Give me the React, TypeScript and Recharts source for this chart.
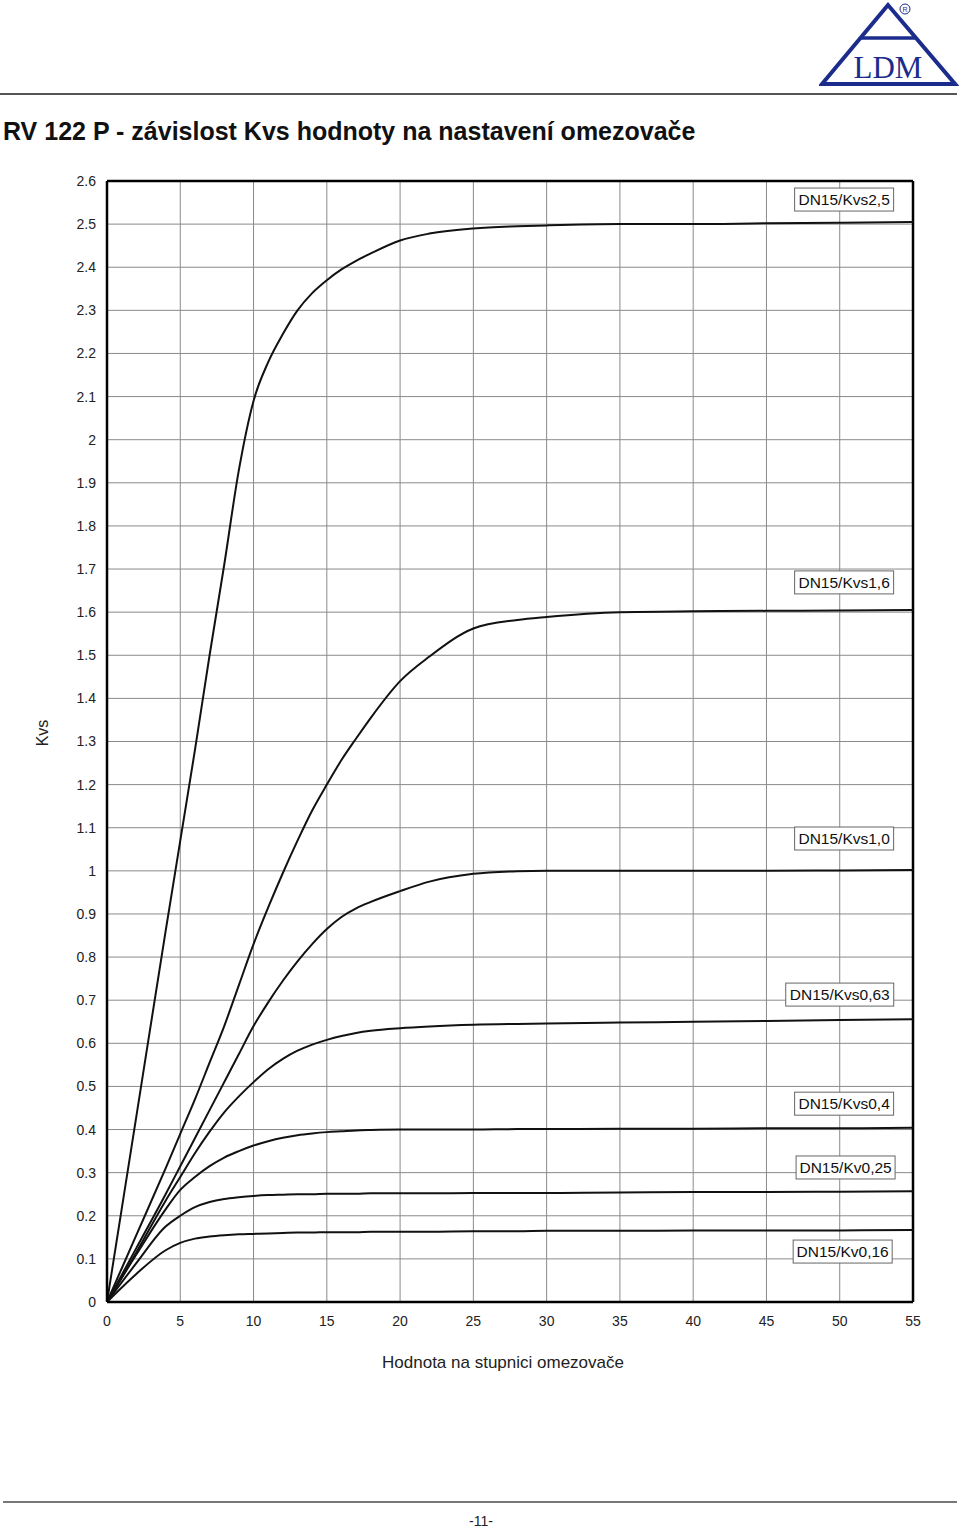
import React from "react";
import {
  CartesianGrid,
  LineChart,
  Line,
  ReferenceDot,
  ReferenceLine,
  XAxis,
  YAxis,
} from "recharts";

// positions on the limiter scale
const xs = [0, 2, 4, 5, 6, 7, 8, 9, 10, 11, 12, 13, 14, 15, 16, 17, 18, 20, 22, 25, 28, 30, 35, 40, 45, 50, 55];

// Kvs
const kvs250 = [0, 0.43, 0.86, 1.07, 1.28, 1.5, 1.71, 1.93, 2.09, 2.18, 2.245, 2.3, 2.34, 2.37, 2.395, 2.415, 2.432, 2.462, 2.478, 2.49, 2.495, 2.497, 2.5, 2.5, 2.502, 2.503, 2.505];
const kvs160 = [0, 0.155, 0.31, 0.39, 0.47, 0.555, 0.64, 0.735, 0.83, 0.915, 0.995, 1.07, 1.14, 1.2, 1.257, 1.307, 1.355, 1.44, 1.497, 1.562, 1.582, 1.589, 1.6, 1.602, 1.603, 1.604, 1.605];
const kvs100 = [0, 0.125, 0.25, 0.315, 0.38, 0.445, 0.51, 0.575, 0.64, 0.695, 0.745, 0.79, 0.83, 0.865, 0.893, 0.913, 0.928, 0.953, 0.975, 0.993, 0.999, 1.0, 1.0, 1.0, 1.0, 1.001, 1.002];
const kvs063 = [0, 0.115, 0.235, 0.29, 0.345, 0.395, 0.44, 0.477, 0.51, 0.54, 0.564, 0.583, 0.597, 0.608, 0.617, 0.624, 0.629, 0.635, 0.639, 0.643, 0.645, 0.646, 0.648, 0.65, 0.652, 0.654, 0.656];
const kvs040 = [0, 0.11, 0.215, 0.26, 0.29, 0.315, 0.335, 0.35, 0.363, 0.373, 0.381, 0.387, 0.391, 0.394, 0.396, 0.398, 0.399, 0.4, 0.4, 0.4, 0.401, 0.401, 0.402, 0.402, 0.403, 0.403, 0.404];
const kv025 = [0, 0.09, 0.175, 0.2, 0.22, 0.232, 0.239, 0.243, 0.246, 0.248, 0.249, 0.25, 0.25, 0.251, 0.251, 0.251, 0.252, 0.252, 0.252, 0.253, 0.253, 0.253, 0.254, 0.255, 0.255, 0.256, 0.257];
const kv016 = [0, 0.065, 0.12, 0.137, 0.147, 0.152, 0.155, 0.157, 0.158, 0.159, 0.16, 0.161, 0.161, 0.162, 0.162, 0.162, 0.163, 0.163, 0.163, 0.164, 0.164, 0.165, 0.165, 0.166, 0.166, 0.166, 0.167];

const seriesKeys = ["k250", "k160", "k100", "k063", "k040", "k025", "k016"];
const seriesValues = [kvs250, kvs160, kvs100, kvs063, kvs040, kv025, kv016];

const labelNames = ["DN15/Kvs2,5", "DN15/Kvs1,6", "DN15/Kvs1,0", "DN15/Kvs0,63", "DN15/Kvs0,4", "DN15/Kv0,25", "DN15/Kv0,16"];
const labelX = [50.3, 50.3, 50.3, 50.0, 50.3, 50.4, 50.2];
const labelY = [2.557, 1.669, 1.075, 0.713, 0.46, 0.312, 0.117];

const xTicks = [0, 5, 10, 15, 20, 25, 30, 35, 40, 45, 50, 55];
const yTicks = [0, 0.1, 0.2, 0.3, 0.4, 0.5, 0.6, 0.7, 0.8, 0.9, 1, 1.1, 1.2, 1.3, 1.4, 1.5, 1.6, 1.7, 1.8, 1.9, 2, 2.1, 2.2, 2.3, 2.4, 2.5, 2.6];

const rows = xs.map((x, i) => {
  const r: Record<string, number> = { x };
  seriesKeys.forEach((k, j) => (r[k] = seriesValues[j][i]));
  return r;
});

const FONT = "'Liberation Sans', Arial, sans-serif";

function LabelBox(props: any) {
  const { cx, cy, text } = props;
  const w = text.length * 9;
  return (
    <g>
      <rect x={cx - w / 2} y={cy - 11.5} width={w} height={23} fill="#fff" stroke="#666" strokeWidth={1} />
      <text x={cx} y={cy + 5.5} textAnchor="middle" fontSize={15.5} fontFamily={FONT} fill="#111">
        {text}
      </text>
    </g>
  );
}

function Logo() {
  return (
    <svg width={140} height={90} style={{ position: "absolute", left: 819, top: 0 }}>
      <polygon points="69,5 3,84 136,84" fill="none" stroke="#1b2c8c" strokeWidth={4} />
      <line x1={41} y1={38} x2={97} y2={38} stroke="#1b2c8c" strokeWidth={3.5} />
      <text x={69} y={78} textAnchor="middle" fontSize={31} fontFamily="'Liberation Serif', serif" fill="#1b2c8c">
        LDM
      </text>
      <circle cx={86} cy={9} r={5} fill="none" stroke="#1b2c8c" strokeWidth={1} />
      <text x={86} y={12} textAnchor="middle" fontSize={7} fontFamily={FONT} fill="#1b2c8c">R</text>
    </svg>
  );
}

export default function App() {
  return (
    <div style={{ position: "absolute", left: 0, top: 0, width: 960, height: 1529, background: "#fff", fontFamily: FONT }}>
      <Logo />
      <div style={{ position: "absolute", left: 0, top: 93, width: 957, height: 2, background: "#555" }} />
      <div style={{ position: "absolute", left: 3, top: 117, fontSize: 25, fontWeight: "bold", color: "#111", whiteSpace: "nowrap" }}>
        RV 122 P - závislost Kvs hodnoty na nastavení omezovače
      </div>

      <div style={{ position: "absolute", left: 0, top: 170 }}>
        <LineChart width={930} height={1180} data={rows} margin={{ top: 11, right: 17, bottom: 18, left: 0 }}>
          <CartesianGrid stroke="#8a8a8a" strokeWidth={1} horizontalValues={yTicks} verticalValues={xTicks} />
          <XAxis
            dataKey="x"
            type="number"
            domain={[0, 55]}
            ticks={xTicks}
            interval={0}
            height={30}
            tickLine={false}
            tickSize={6}
            tickMargin={8}
            axisLine={{ stroke: "#000", strokeWidth: 2.5 }}
            tick={{ fontSize: 14, fill: "#222", fontFamily: FONT }}
          />
          <YAxis
            type="number"
            domain={[0, 2.6]}
            ticks={yTicks}
            interval={0}
            width={107}
            tickLine={false}
            tickSize={6}
            tickMargin={5}
            axisLine={{ stroke: "#000", strokeWidth: 2.5 }}
            tickFormatter={(v) => String(v)}
            tick={{ fontSize: 14, fill: "#222", fontFamily: FONT }}
          />
          <ReferenceLine x={55} stroke="#000" strokeWidth={2.5} />
          <ReferenceLine y={2.6} stroke="#000" strokeWidth={2.5} />
          {seriesKeys.map((k) => (
            <Line key={k} dataKey={k} type="monotone" stroke="#111" strokeWidth={2} dot={false} isAnimationActive={false} />
          ))}
          {labelNames.map((t, i) => (
            <ReferenceDot key={t} x={labelX[i]} y={labelY[i]} r={0} shape={(p: any) => <LabelBox {...p} text={t} />} />
          ))}
        </LineChart>
      </div>

      <div style={{ position: "absolute", left: 26, top: 733, width: 34, textAlign: "center", transform: "rotate(-90deg)", transformOrigin: "center", fontSize: 16, color: "#222", lineHeight: "18px", marginTop: -9 }}>
        Kvs
      </div>
      <div style={{ position: "absolute", left: 300, top: 1353, width: 406, textAlign: "center", fontSize: 17, color: "#222" }}>
        Hodnota na stupnici omezovače
      </div>

      <div style={{ position: "absolute", left: 3, top: 1501, width: 954, height: 2, background: "#777" }} />
      <div style={{ position: "absolute", left: 441, top: 1513, width: 80, textAlign: "center", fontSize: 14, color: "#222" }}>
        -11-
      </div>
    </div>
  );
}
